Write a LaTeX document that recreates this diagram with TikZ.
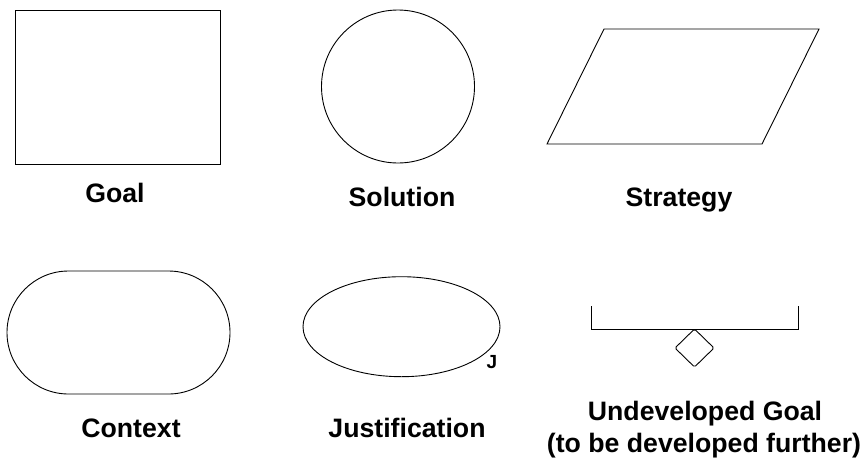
\documentclass[tikz,border=0pt]{standalone}
\usepackage{fontspec}
\setmainfont{Liberation Sans}
\usetikzlibrary{shapes.geometric, shapes.misc, positioning}

\begin{document}
\begin{tikzpicture}[x=1pt, y=-1pt, line width=0.9pt,
    shp/.style={draw, inner sep=0pt, outer sep=0pt},
    lbl/.style={font=\fontsize{26.67}{32}\selectfont\bfseries, anchor=base, inner sep=0pt}]
    \useasboundingbox (0,0) rectangle (865,459);

    \node[shp, rectangle, minimum width=205pt, minimum height=154pt] (goal) at (117.5,87) {};
    \node[shp, circle, minimum size=153pt] (sol) at (398,86.5) {};
    \draw (547,144) coordinate (strat) -- (604,29) -- (819,29) -- (762,144) -- cycle;

    \node[shp, rounded rectangle, minimum width=223pt, minimum height=123pt] (ctx) at (118.5,332.5) {};
    \node[shp, ellipse, minimum width=197pt, minimum height=100pt] (just) at (401.5,326.7) {};
    \node[font=\fontsize{19}{22}\selectfont\bfseries, anchor=base, inner sep=0pt] (jmark) at (492,368) {J};

    \draw (591,306) coordinate (ubar) -- (591,329) -- (798,329) -- (798,306);
    \node[shp, diamond, minimum width=39pt, minimum height=38pt, rounded corners=1.5pt] (udia) at (694.5,348) {};

    \node[lbl] (goal-l) at (115,202) {Goal};
    \node[lbl] (sol-l) at (402,206) {Solution};
    \node[lbl] (strat-l) at (679,206) {Strategy};
    \node[lbl] (ctx-l) at (131,437) {Context};
    \node[lbl] (just-l) at (407,437) {Justification};
    \node[lbl] (undev-l) at (705,420) {Undeveloped Goal};
    \node[lbl] (undev-l2) at (704,452) {(to be developed further)};
\end{tikzpicture}
\end{document}
